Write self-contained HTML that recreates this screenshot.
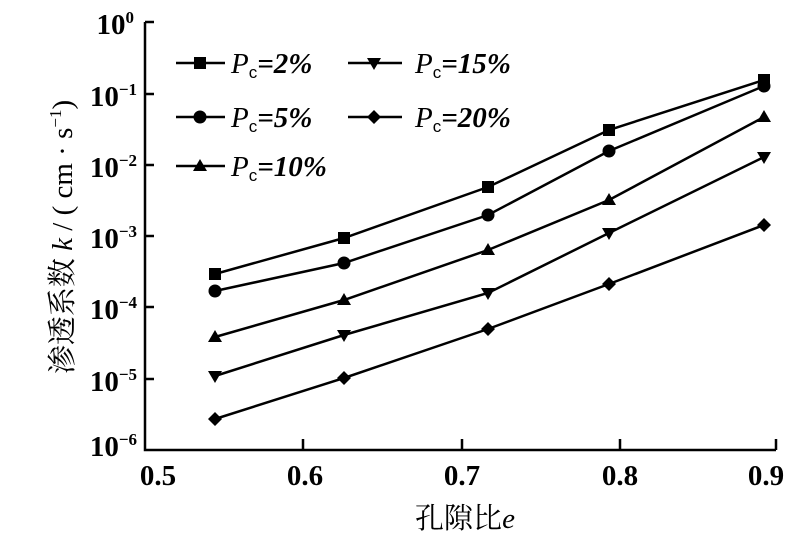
<!DOCTYPE html>
<html><head><meta charset="utf-8"><style>
html,body{margin:0;padding:0;background:#fff;}
svg{display:block;}
text{font-family:"Liberation Serif","Noto Serif CJK SC",serif;fill:#000;}
</style></head><body>
<svg width="811" height="540" viewBox="0 0 811 540" xmlns="http://www.w3.org/2000/svg">
<g stroke="#000" stroke-width="2.5" fill="none">
<path d="M145,22 V450 H776"/>
<path d="M145,22 h9 M145,94 h9 M145,165 h9 M145,236 h9 M145,307 h9 M145,379 h9"/>
<path d="M303,450 v-11 M462,450 v-11 M620,450 v-11 M776,450 v-11"/>
</g>
<g font-size="29" font-weight="bold" text-anchor="end">
<text x="134" y="34">10<tspan font-size="17" dy="-11">0</tspan></text>
<text x="137" y="106">10<tspan font-size="17" dy="-11">−1</tspan></text>
<text x="137" y="177">10<tspan font-size="17" dy="-11">−2</tspan></text>
<text x="137" y="248">10<tspan font-size="17" dy="-11">−3</tspan></text>
<text x="137" y="319">10<tspan font-size="17" dy="-11">−4</tspan></text>
<text x="137" y="391">10<tspan font-size="17" dy="-11">−5</tspan></text>
<text x="137" y="456">10<tspan font-size="17" dy="-11">−6</tspan></text>
</g>
<g font-size="29" font-weight="bold" text-anchor="middle">
<text x="158" y="485">0.5</text><text x="305" y="485">0.6</text><text x="462" y="485">0.7</text><text x="620" y="485">0.8</text><text x="766" y="485">0.9</text>
</g>
<text x="465" y="528" font-size="29" text-anchor="middle">孔隙比<tspan font-style="italic">e</tspan></text>
<text transform="translate(72,237) rotate(-90)" font-size="29" text-anchor="middle">渗透系数 <tspan font-style="italic">k</tspan> / ( cm · s<tspan font-size="17" dy="-11">−1</tspan><tspan dy="11">)</tspan></text>
<g stroke="#000" stroke-width="2.5" fill="none">
<polyline points="215,274 344,238 488,187 609,130 764,80"/>
<polyline points="215,291 344,263 488,215 609,151 764,86"/>
<polyline points="215,337 344,300 488,250 609,200 764,117"/>
<polyline points="215,376 344,335 488,293 609,233 764,157"/>
<polyline points="215,419 344,378 488,329 609,284 764,225"/>
<path d="M176,63 H225 M176,117 H225 M176,166 H225 M348,63 H402 M348,117 H402"/>
</g>
<g fill="#000">
<rect x="209" y="268" width="12" height="12"/><rect x="338" y="232" width="12" height="12"/><rect x="482" y="181" width="12" height="12"/><rect x="603" y="124" width="12" height="12"/><rect x="758" y="74" width="12" height="12"/><rect x="194" y="57" width="12" height="12"/>
<circle cx="215" cy="291" r="6.5"/><circle cx="344" cy="263" r="6.5"/><circle cx="488" cy="215" r="6.5"/><circle cx="609" cy="151" r="6.5"/><circle cx="764" cy="86" r="6.5"/><circle cx="200" cy="117" r="6.5"/>
<path d="M215,330 l7,12 h-14z M344,293 l7,12 h-14z M488,243 l7,12 h-14z M609,193 l7,12 h-14z M764,110 l7,12 h-14z M200,159 l7,12 h-14z"/>
<path d="M215,383 l7,-12 h-14z M344,342 l7,-12 h-14z M488,300 l7,-12 h-14z M609,240 l7,-12 h-14z M764,164 l7,-12 h-14z M374,70 l7,-12 h-14z"/>
<path d="M215,412 l7,7 l-7,7 l-7,-7z M344,371 l7,7 l-7,7 l-7,-7z M488,322 l7,7 l-7,7 l-7,-7z M609,277 l7,7 l-7,7 l-7,-7z M764,218 l7,7 l-7,7 l-7,-7z M374,110 l7,7 l-7,7 l-7,-7z"/>
</g>
<g font-size="29" font-weight="bold">
<text x="231" y="73"><tspan font-style="italic" font-weight="normal">P</tspan><tspan font-family="Liberation Sans" font-weight="normal" font-size="17" dy="5">c</tspan><tspan dy="-5" font-style="italic">=2%</tspan></text>
<text x="231" y="127"><tspan font-style="italic" font-weight="normal">P</tspan><tspan font-family="Liberation Sans" font-weight="normal" font-size="17" dy="5">c</tspan><tspan dy="-5" font-style="italic">=5%</tspan></text>
<text x="231" y="176"><tspan font-style="italic" font-weight="normal">P</tspan><tspan font-family="Liberation Sans" font-weight="normal" font-size="17" dy="5">c</tspan><tspan dy="-5" font-style="italic">=10%</tspan></text>
<text x="415" y="73"><tspan font-style="italic" font-weight="normal">P</tspan><tspan font-family="Liberation Sans" font-weight="normal" font-size="17" dy="5">c</tspan><tspan dy="-5" font-style="italic">=15%</tspan></text>
<text x="415" y="127"><tspan font-style="italic" font-weight="normal">P</tspan><tspan font-family="Liberation Sans" font-weight="normal" font-size="17" dy="5">c</tspan><tspan dy="-5" font-style="italic">=20%</tspan></text>
</g>
</svg>
</body></html>
